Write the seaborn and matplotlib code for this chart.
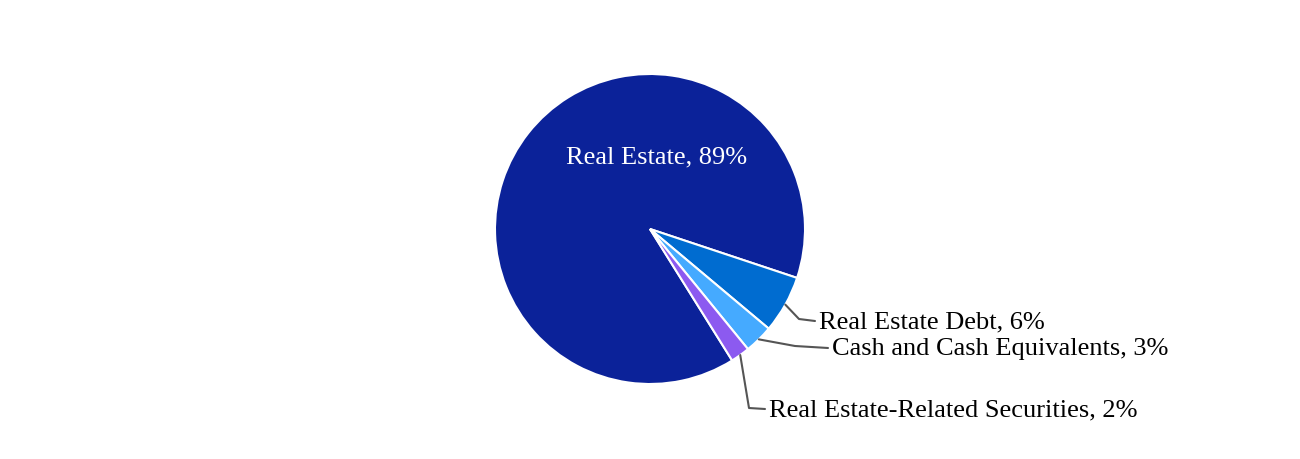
import numpy as np
import matplotlib
matplotlib.use("Agg")
import matplotlib.pyplot as plt
import seaborn as sns

categories = ["Real Estate", "Real Estate Debt", "Cash and Cash Equivalents", "Real Estate-Related Securities"]
values = [89, 6, 3, 2]
colors = ["#0b2299", "#006cd0", "#45aaff", "#8c5af0"]

sns.set_theme(style="white")
plt.rcParams['font.family'] = ['Liberation Serif', 'DejaVu Serif']

W, H = 1300, 460
fig = plt.figure(figsize=(13, 4.6), dpi=100)
ax = fig.add_axes([0, 0, 1, 1])

def py(y):  # pixel row -> data y (y up)
    return H - y

cx, cy, R = 650, py(230), 155
start = -58  # degrees
wedges, _ = ax.pie(values, colors=colors, startangle=start, counterclock=False,
                   center=(cx, cy), radius=R, frame=True,
                   wedgeprops=dict(edgecolor="white", linewidth=1.5))
ax.set_xlim(0, W)
ax.set_ylim(0, H)
ax.set_aspect('equal')
ax.axis('off')

fs = 19
ax.text(657, py(157), f"{categories[0]}, {values[0]}%", color="white", fontsize=fs,
        ha="center", va="center")

layout = {
    1: ((799, 320), (819, 322)),
    2: ((795, 347), (832, 349)),
    3: ((749, 409), (769, 410)),
}
for i, (elbow, tpos) in layout.items():
    w = wedges[i]
    mid = np.deg2rad((w.theta1 + w.theta2) / 2)
    px_ = cx + R * np.cos(mid)
    py_ = cy + R * np.sin(mid)
    ax.plot([px_, elbow[0], tpos[0] - 4], [py_, py(elbow[1]), py(tpos[1])],
            color="#555555", linewidth=1.5)
    ax.text(tpos[0], py(tpos[1]), f"{categories[i]}, {values[i]}%", color="black",
            fontsize=fs, ha="left", va="center")

fig.savefig("out.png", dpi=100, facecolor="white")
